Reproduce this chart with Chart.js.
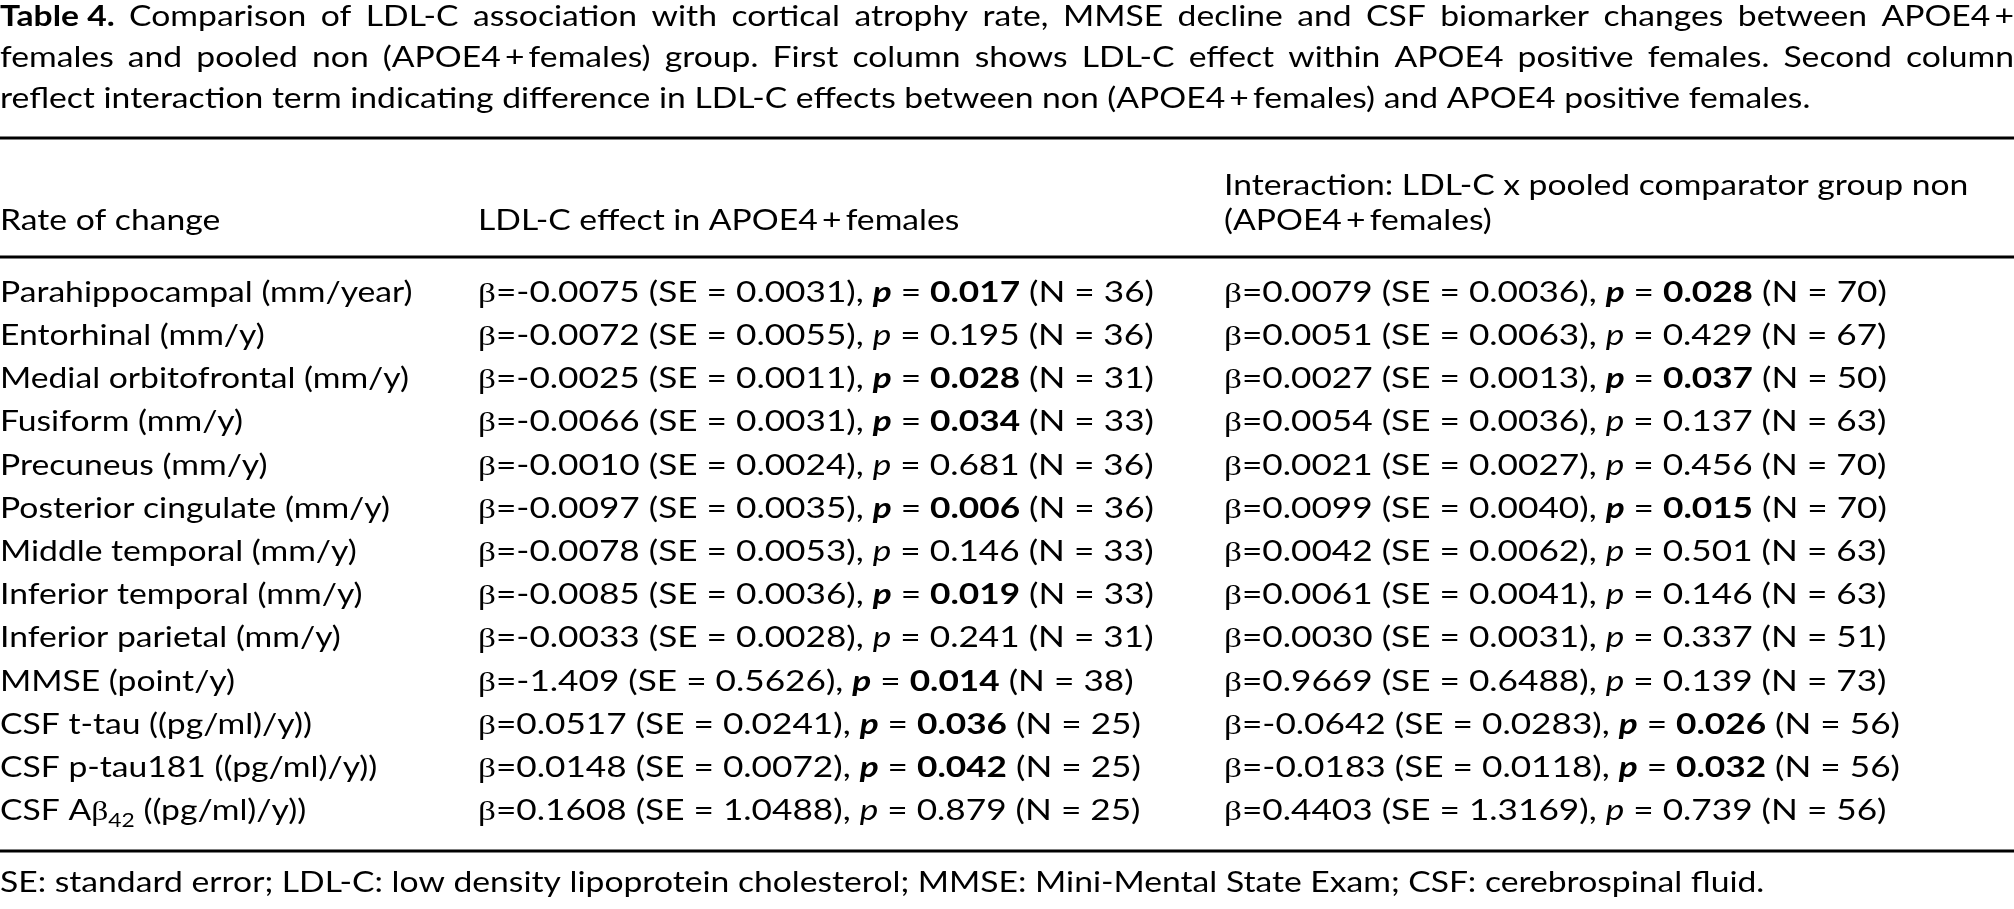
<!DOCTYPE html>
<html>
<head>
<meta charset="utf-8">
<title>Table 4</title>
<script src="https://cdn.jsdelivr.net/npm/chart.js@4.4.1/dist/chart.umd.min.js"></script>
<style>
  html, body { margin: 0; padding: 0; background: #fff; }
  #wrap { width: 2014px; height: 909px; position: relative; }
</style>
</head>
<body>
<div id="wrap"><canvas id="tableChart"></canvas></div>
<script>
// row categories (first column)
const rowLabels = [
    'Parahippocampal (mm/year)',
    'Entorhinal (mm/y)',
    'Medial orbitofrontal (mm/y)',
    'Fusiform (mm/y)',
    'Precuneus (mm/y)',
    'Posterior cingulate (mm/y)',
    'Middle temporal (mm/y)',
    'Inferior temporal (mm/y)',
    'Inferior parietal (mm/y)',
    'MMSE (point/y)',
    'CSF t-tau ((pg/ml)/y))',
    'CSF p-tau181 ((pg/ml)/y))',
    'CSF A\u03b2\u2084\u2082 ((pg/ml)/y))'
];

// LDL-C effect in APOE4+ females
const betaApoe = ['-0.0075', '-0.0072', '-0.0025', '-0.0066', '-0.0010', '-0.0097', '-0.0078', '-0.0085', '-0.0033', '-1.409', '0.0517', '0.0148', '0.1608'];
const seApoe = ['0.0031', '0.0055', '0.0011', '0.0031', '0.0024', '0.0035', '0.0053', '0.0036', '0.0028', '0.5626', '0.0241', '0.0072', '1.0488'];
const pApoe = [0.017, 0.195, 0.028, 0.034, 0.681, 0.006, 0.146, 0.019, 0.241, 0.014, 0.036, 0.042, 0.879];
const nApoe = [36, 36, 31, 33, 36, 36, 33, 33, 31, 38, 25, 25, 25];

// Interaction term vs pooled comparator group
const betaInter = ['0.0079', '0.0051', '0.0027', '0.0054', '0.0021', '0.0099', '0.0042', '0.0061', '0.0030', '0.9669', '-0.0642', '-0.0183', '0.4403'];
const seInter = ['0.0036', '0.0063', '0.0013', '0.0036', '0.0027', '0.0040', '0.0062', '0.0041', '0.0031', '0.6488', '0.0283', '0.0118', '1.3169'];
const pInter = [0.028, 0.429, 0.037, 0.137, 0.456, 0.015, 0.501, 0.146, 0.337, 0.139, 0.026, 0.032, 0.739];
const nInter = [70, 67, 50, 63, 70, 70, 63, 63, 51, 73, 56, 56, 56];

const captionLead = 'Table 4.';
const captionLines = [
    'Comparison of LDL-C association with cortical atrophy rate, MMSE decline and CSF biomarker changes between APOE4\u2009+',
    'females and pooled non (APOE4\u2009+\u2009females) group. First column shows LDL-C effect within APOE4 positive females. Second column',
    'reflect interaction term indicating difference in LDL-C effects between non (APOE4\u2009+\u2009females) and APOE4 positive females.'
];
const headerRate = 'Rate of change';
const headerApoe = 'LDL-C effect in APOE4\u2009+\u2009females';
const headerInter = ['Interaction: LDL-C x pooled comparator group non', '(APOE4\u2009+\u2009females)'];
const footnote = 'SE: standard error; LDL-C: low density lipoprotein cholesterol; MMSE: Mini-Mental State Exam; CSF: cerebrospinal fluid.';

const SIG = 0.05;
const FONT_SIZE = 28;
const REG = `${FONT_SIZE}px Lato, "Open Sans", sans-serif`;
const BOLD = `bold ${FONT_SIZE}px Lato, "Open Sans", sans-serif`;
const ITAL = `italic ${FONT_SIZE}px Lato, "Open Sans", sans-serif`;
const BOLD_ITAL = `italic bold ${FONT_SIZE}px Lato, "Open Sans", sans-serif`;
const GREEK = `${FONT_SIZE}px "Liberation Serif", "DejaVu Serif", serif`;
const SMALL = `${Math.round(FONT_SIZE * 0.68)}px Lato, "Open Sans", sans-serif`;
const SUBS = '\u2080\u2081\u2082\u2083\u2084\u2085\u2086\u2087\u2088\u2089';
const COLS = [0, 478, 1224];   // column left edges on the x scale
const TEXT_COLOR = '#000';

let stretch = 1;       // horizontal scale for running text
let statStretch = 1;   // horizontal scale for the statistic cells

// split a plain string into segments so beta uses the serif face and subscripts shrink
function toSegs(str, font) {
    const out = [];
    let buf = '';
    const flush = () => { if (buf) { out.push({ text: buf, font }); buf = ''; } };
    for (const ch of str) {
        if (ch === '\u03b2') {
            flush();
            out.push({ text: ch, font: GREEK });
        } else if (SUBS.includes(ch)) {
            flush();
            out.push({ text: String(SUBS.indexOf(ch)), font: SMALL, dy: 7 });
        } else {
            buf += ch;
        }
    }
    flush();
    return out;
}

function statSegs(beta, se, p, n) {
    const sig = p < SIG;
    return [
        ...toSegs(`\u03b2=${beta} (SE = ${se}), `, REG),
        { text: 'p', font: sig ? BOLD_ITAL : ITAL },
        { text: ' = ', font: REG },
        { text: p.toFixed(3), font: sig ? BOLD : REG },
        { text: ` (N = ${n})`, font: REG }
    ];
}

function rawWidth(ctx, segs) {
    let w = 0;
    segs.forEach(s => { ctx.font = s.font; w += ctx.measureText(s.text).width; });
    return w;
}

function drawSegs(ctx, x, baseline, segs, sx) {
    const k = sx || stretch;
    ctx.save();
    ctx.translate(x, baseline);
    ctx.scale(k, 1);
    let cx = 0;
    segs.forEach(s => {
        ctx.font = s.font;
        ctx.fillText(s.text, cx, s.dy || 0);
        cx += ctx.measureText(s.text).width;
    });
    ctx.restore();
}

// spread the words of a caption line over the full width
function drawJustified(ctx, words, left, right, baseline) {
    const widths = words.map(w => rawWidth(ctx, w) * stretch);
    const total = widths.reduce((a, b) => a + b, 0);
    const gap = (right - left - total) / (words.length - 1);
    let cx = left;
    words.forEach((w, i) => {
        drawSegs(ctx, cx, baseline, w);
        cx += widths[i] + gap;
    });
}

function hRule(ctx, area, y, w) {
    ctx.fillStyle = TEXT_COLOR;
    ctx.fillRect(area.left, y - w / 2, area.right - area.left, w);
}

const tablePlugin = {
    id: 'tableCells',
    afterDraw(chart) {
        const ctx = chart.ctx;
        const xs = chart.scales.x;
        const ys = chart.scales.y;
        const area = { left: xs.getPixelForValue(0), right: xs.getPixelForValue(2014) };
        const colPx = COLS.map(c => xs.getPixelForValue(c));

        ctx.save();
        ctx.textBaseline = 'alphabetic';
        ctx.textAlign = 'left';
        ctx.fillStyle = TEXT_COLOR;

        // fit the substitute face to the widths of the printed text
        const fitTexts = [captionLines[2], footnote, rowLabels[0], headerApoe, headerInter[0]];
        const fitTargets = [1878, 1616, 417, 514, 788];
        const rawSum = fitTexts.reduce((a, t) => a + rawWidth(ctx, toSegs(t, REG)), 0);
        stretch = fitTargets.reduce((a, b) => a + b, 0) / rawSum;
        statStretch = 676 / rawWidth(ctx, statSegs(betaApoe[0], seApoe[0], pApoe[0], nApoe[0]));

        // caption
        const line1 = [[{ text: captionLead, font: BOLD }], ...captionLines[0].split(' ').map(w => toSegs(w, REG))];
        drawJustified(ctx, line1, area.left, area.right, ys.top - 245);
        drawJustified(ctx, captionLines[1].split(' ').map(w => toSegs(w, REG)), area.left, area.right, ys.top - 204);
        drawSegs(ctx, area.left, ys.top - 163, toSegs(captionLines[2], REG));

        // rules
        hRule(ctx, area, ys.top - 133, 3);
        hRule(ctx, area, ys.top - 14, 3);
        hRule(ctx, area, ys.bottom + 18, 3);

        // column headers
        ctx.fillStyle = TEXT_COLOR;
        drawSegs(ctx, colPx[0], ys.top - 41, toSegs(headerRate, REG));
        drawSegs(ctx, colPx[1], ys.top - 41, toSegs(headerApoe, REG));
        drawSegs(ctx, colPx[2], ys.top - 76, toSegs(headerInter[0], REG));
        drawSegs(ctx, colPx[2], ys.top - 41, toSegs(headerInter[1], REG));

        // body rows
        rowLabels.forEach((label, i) => {
            const base = ys.getPixelForValue(i) + 9;
            drawSegs(ctx, colPx[0], base, toSegs(label, REG));
            drawSegs(ctx, colPx[1], base, statSegs(betaApoe[i], seApoe[i], pApoe[i], nApoe[i]), statStretch);
            drawSegs(ctx, colPx[2], base, statSegs(betaInter[i], seInter[i], pInter[i], nInter[i]), statStretch);
        });

        // footnote
        drawSegs(ctx, area.left, ys.bottom + 59, toSegs(footnote, REG));
        ctx.restore();
    }
};

function renderTable() {
    const canvas = document.getElementById('tableChart');
    const ctx = canvas.getContext('2d');
    new Chart(ctx, {
        type: 'scatter',
        data: { datasets: [] },
        options: {
            responsive: true,
            maintainAspectRatio: false,
            animation: false,
            events: [],
            layout: { padding: { top: 271, bottom: 76, left: 0, right: 0 } },
            plugins: {
                legend: { display: false },
                tooltip: { enabled: false }
            },
            scales: {
                x: { type: 'linear', min: 0, max: 2014, display: false },
                y: { type: 'category', labels: rowLabels, offset: true, display: false }
            }
        },
        plugins: [tablePlugin]
    });
}

document.fonts.load(REG).then(() => Promise.all([
    document.fonts.load(BOLD), document.fonts.load(ITAL), document.fonts.load(BOLD_ITAL)
])).finally(renderTable);
</script>
</body>
</html>
